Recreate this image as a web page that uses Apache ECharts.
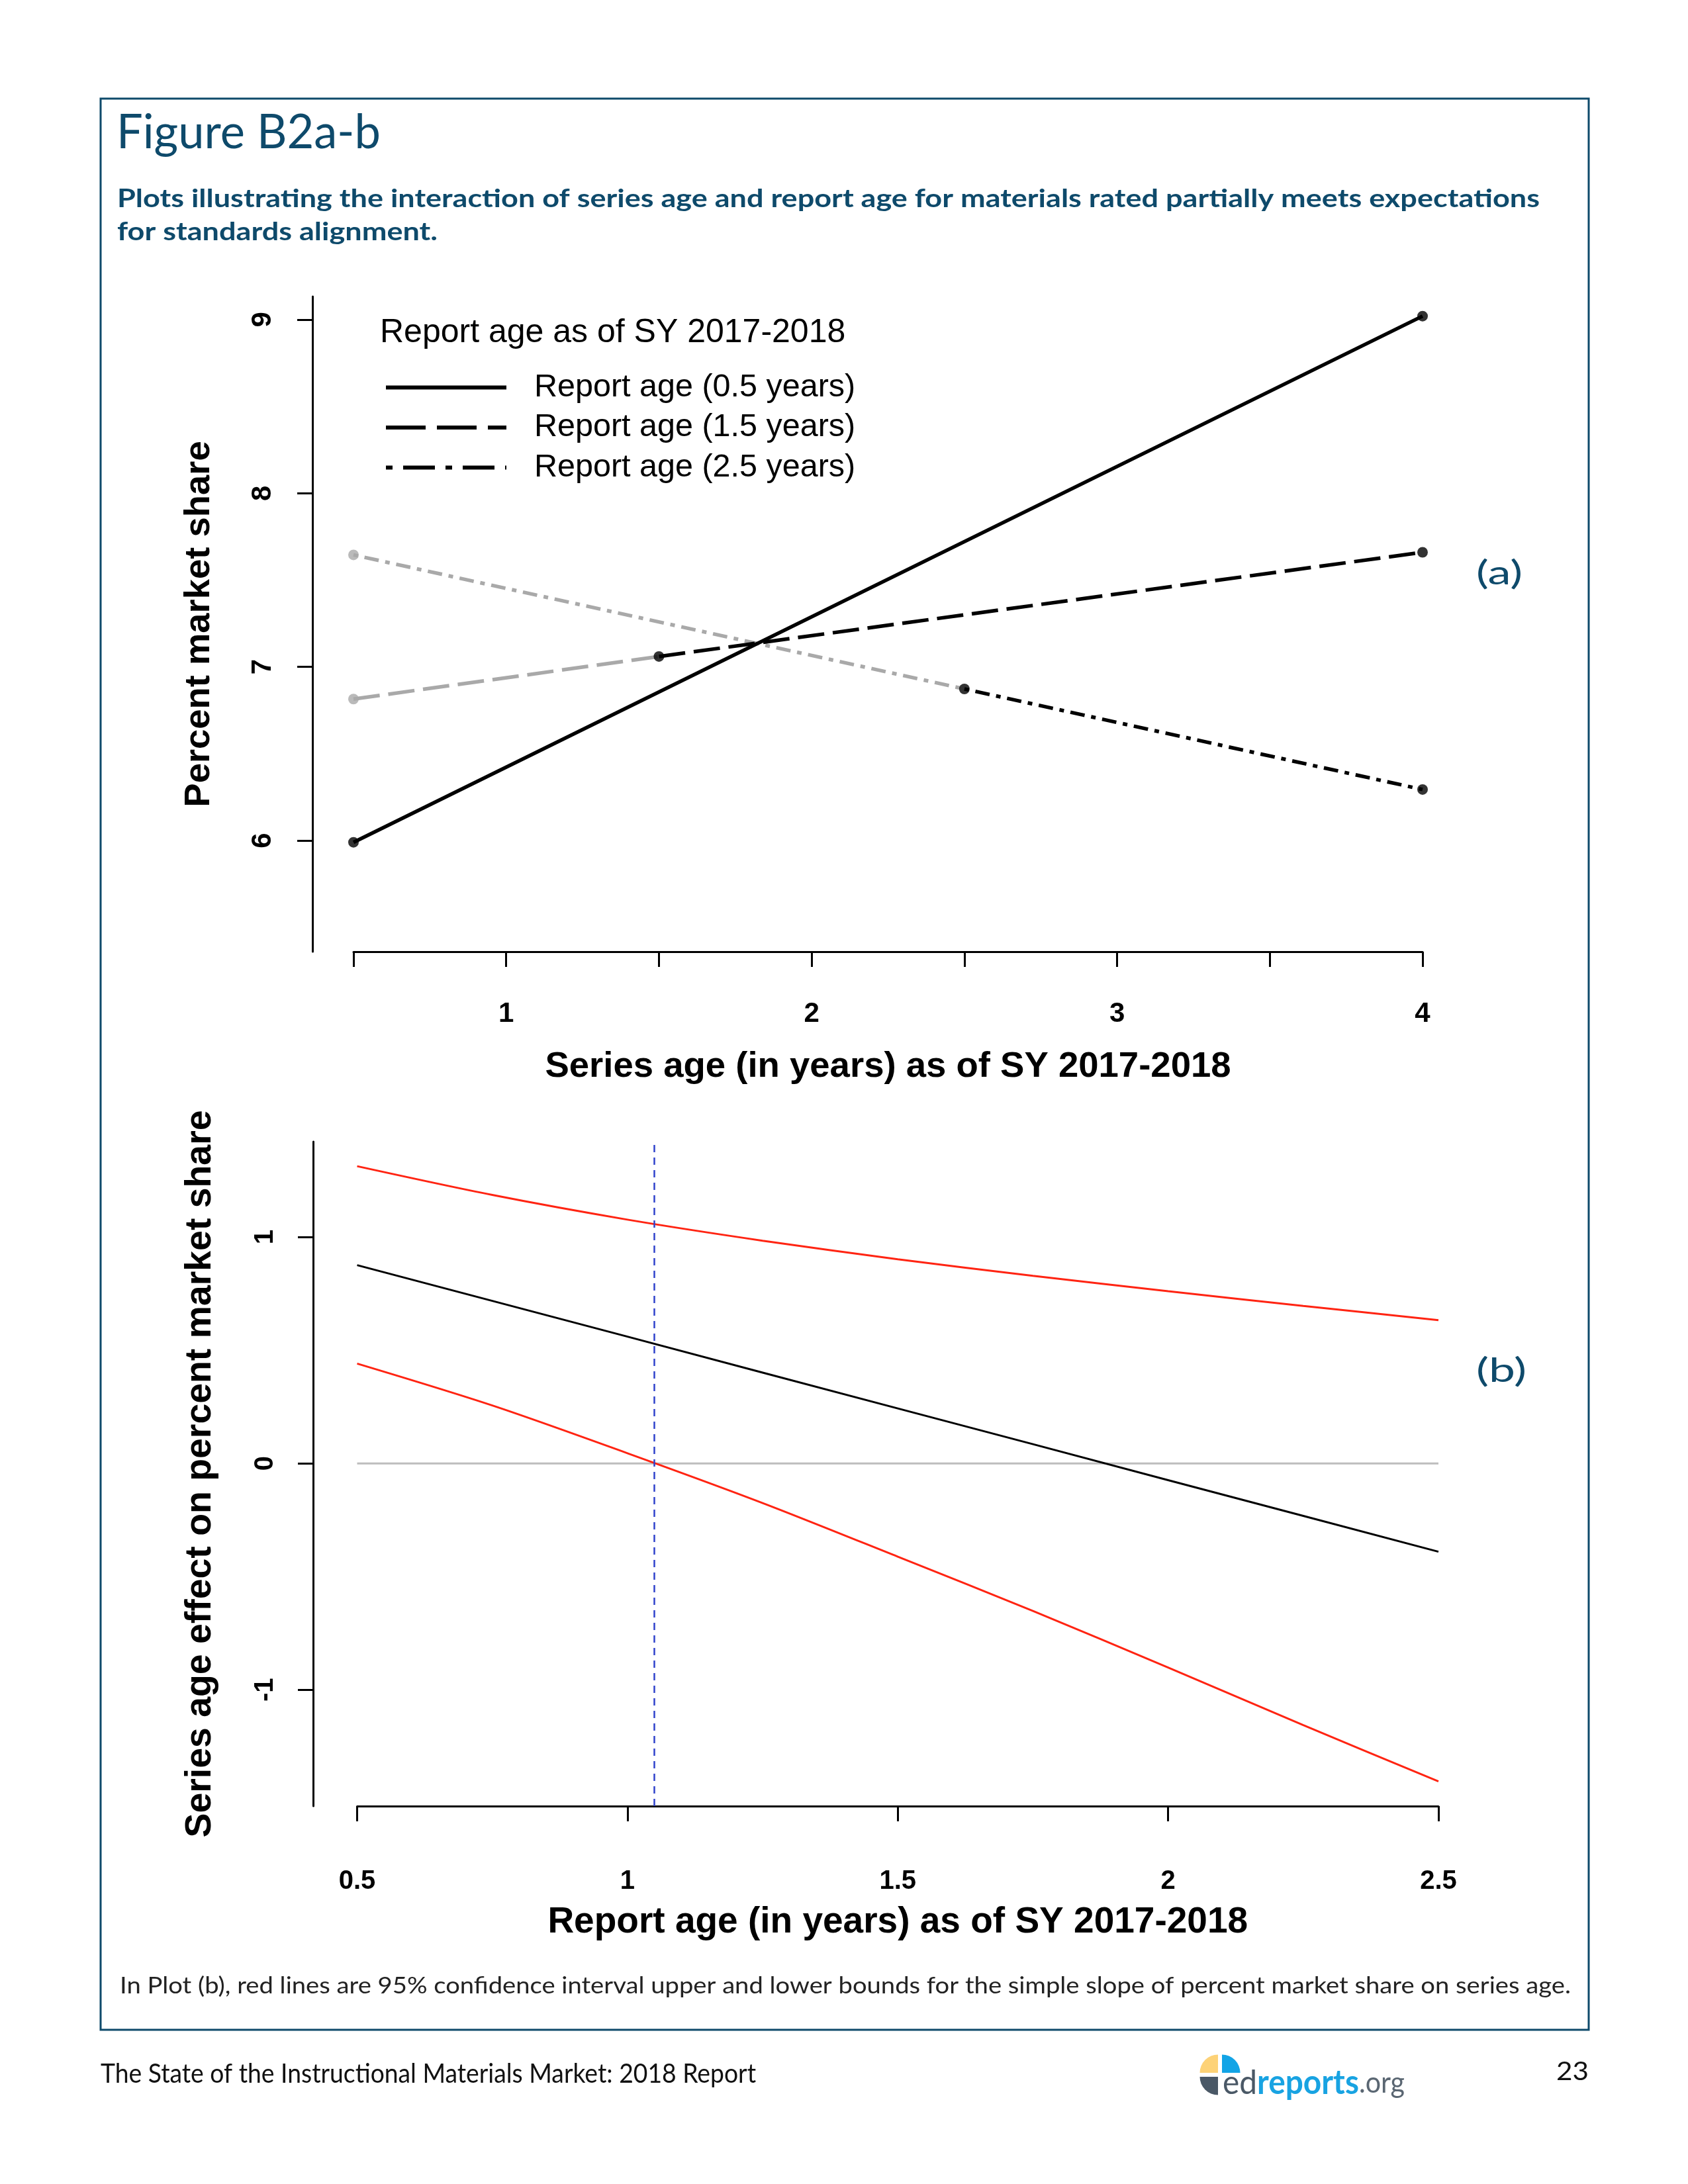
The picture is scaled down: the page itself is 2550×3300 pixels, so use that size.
<!DOCTYPE html>
<html><head><meta charset="utf-8">
<script src="https://cdn.jsdelivr.net/npm/echarts@6/dist/echarts.min.js"></script>
<style>html,body{margin:0;padding:0;background:#fff}#c{width:2550px;height:3300px}</style>
</head><body><div id="c"></div>
<script>
// ---------------- Plot (a) data ----------------
const seriesAgeTicks = [0.5, 1, 1.5, 2, 2.5, 3, 3.5, 4];
const seriesAgeLabels = [1, 2, 3, 4];
const shareTicks = [6, 7, 8, 9];
const reportAgeNames = ['Report age (0.5 years)', 'Report age (1.5 years)', 'Report age (2.5 years)'];
const seriesAgeFirst = 0.5;
const seriesAgeLast = 4;
const observedFrom = [0.5, 1.5, 2.5];        // series age where the black (observed) part begins
const shareAtFirst = [5.99, 6.815, 7.645];    // value at series age 0.5
const shareAtObserved = [5.99, 7.06, 6.873];  // value where black part begins
const shareAtLast = [9.02, 7.66, 6.294];      // value at series age 4

// ---------------- Plot (b) data ----------------
const reportAge = [0.5, 0.75, 1, 1.25, 1.5, 1.75, 2, 2.25, 2.5];
const reportAgeTicks = [0.5, 1, 1.5, 2, 2.5];
const simpleSlope = [0.876, 0.718, 0.560, 0.401, 0.243, 0.085, -0.074, -0.232, -0.390];
const ciUpper = [1.313, 1.186, 1.077, 0.984, 0.902, 0.829, 0.761, 0.696, 0.633];
const ciLower = [0.441, 0.256, 0.045, -0.175, -0.412, -0.652, -0.902, -1.156, -1.405];
const jnReportAge = 1.054;
const effectTicks = [-1, 0, 1];

// ---------------- styling ----------------
const RF = "'Liberation Sans', Arial, Helvetica, sans-serif";
const PF = "Lato, 'Open Sans', sans-serif";
const TEAL = '#0e4a6b';
const plotDash = ['solid', [40, 13], [7, 10, 22, 10]];
const legendDash = ['solid', [60, 17], [10, 16, 48, 16]];

const chart = echarts.init(document.getElementById('c'), null, {renderer: 'canvas'});

// plot (a) series
const series = [];
reportAgeNames.forEach((name, i) => {
  if (observedFrom[i] > seriesAgeFirst) {
    series.push({
      type: 'line', name: name + ' extrapolated', xAxisIndex: 0, yAxisIndex: 0,
      data: [[seriesAgeFirst, shareAtFirst[i]], [observedFrom[i], shareAtObserved[i]]],
      symbol: 'none', silent: true, z: 2,
      lineStyle: {color: '#a9a9a9', width: 5.5, type: plotDash[i]}
    });
  }
  series.push({
    type: 'line', name: name, xAxisIndex: 0, yAxisIndex: 0,
    data: [[observedFrom[i], shareAtObserved[i]], [seriesAgeLast, shareAtLast[i]]],
    symbol: 'none', silent: true, z: 3,
    lineStyle: {color: '#000', width: 5.5, type: plotDash[i]}
  });
});
const blackPts = [], grayPts = [];
reportAgeNames.forEach((n, i) => {
  blackPts.push([observedFrom[i], shareAtObserved[i]]);
  blackPts.push([seriesAgeLast, shareAtLast[i]]);
  if (observedFrom[i] > seriesAgeFirst) grayPts.push([seriesAgeFirst, shareAtFirst[i]]);
});
series.push({type: 'scatter', name: 'gray points', xAxisIndex: 0, yAxisIndex: 0, data: grayPts,
  symbolSize: 16, itemStyle: {color: '#a9a9a9'}, z: 4, silent: true});
series.push({type: 'scatter', name: 'black points', xAxisIndex: 0, yAxisIndex: 0, data: blackPts,
  symbolSize: 16, itemStyle: {color: '#000'}, z: 5, silent: true});

// plot (b) series
const zip = (xs, ys) => xs.map((x, k) => [x, ys[k]]);
series.push({type: 'line', name: 'zero', xAxisIndex: 1, yAxisIndex: 1,
  data: [[reportAge[0], 0], [reportAge[reportAge.length - 1], 0]], symbol: 'none', silent: true, z: 1,
  lineStyle: {color: '#bdbdbd', width: 3}});
series.push({type: 'line', name: 'simple slope', xAxisIndex: 1, yAxisIndex: 1,
  data: zip(reportAge, simpleSlope), symbol: 'none', silent: true, z: 3,
  lineStyle: {color: '#000', width: 3},
  markLine: {silent: true, symbol: 'none', label: {show: false},
    lineStyle: {color: '#3043cc', width: 2.5, type: [11, 8]},
    data: [{xAxis: jnReportAge}]}});
series.push({type: 'line', name: 'upper', xAxisIndex: 1, yAxisIndex: 1,
  data: zip(reportAge, ciUpper), symbol: 'none', silent: true, z: 3, smooth: 0.3,
  lineStyle: {color: '#ff2412', width: 3}});
series.push({type: 'line', name: 'lower', xAxisIndex: 1, yAxisIndex: 1,
  data: zip(reportAge, ciLower), symbol: 'none', silent: true, z: 3, smooth: 0.3,
  lineStyle: {color: '#ff2412', width: 3}});

// ---------------- page text helpers ----------------
const mctx = document.createElement('canvas').getContext('2d');
function measure(text, font) { mctx.font = font; return mctx.measureText(text).width; }
function fitText(text, font, x, y, targetW, fill) {
  const w = measure(text, font);
  return {type: 'text', x: x, y: y, scaleX: targetW / w, silent: true,
    style: {text: text, font: font, fill: fill, textAlign: 'left', align: 'left',
      textVerticalAlign: 'middle', verticalAlign: 'middle'}};
}
function plainText(text, font, x, y, fill, align) {
  return {type: 'text', x: x, y: y, silent: true,
    style: {text: text, font: font, fill: fill, textAlign: align || 'left', align: align || 'left',
      textVerticalAlign: 'middle', verticalAlign: 'middle'}};
}

// logo text
const fEd = `400 51px ${PF}`, fRep = `700 51px ${PF}`, fOrg = `400 44px ${PF}`;
const logoW = measure('ed', fEd) + measure('reports', fRep) + measure('.org', fOrg);

const graphics = [
  {type: 'rect', silent: true, shape: {x: 152, y: 149, width: 2248, height: 2918},
    style: {fill: 'none', stroke: TEAL, lineWidth: 3}},
  fitText('Figure B2a-b', `400 72px ${PF}`, 176, 201, 399, TEAL),
  fitText('Plots illustrating the interaction of series age and report age for materials rated partially meets expectations',
    `700 38px ${PF}`, 177, 301, 2149, TEAL),
  fitText('for standards alignment.', `700 38px ${PF}`, 177, 351, 484, TEAL),
  fitText('(a)', `400 50px ${PF}`, 2230, 867, 70, TEAL),
  fitText('(b)', `400 50px ${PF}`, 2230, 2072, 76, TEAL),
  fitText('In Plot (b), red lines are 95% confidence interval upper and lower bounds for the simple slope of percent market share on series age.',
    `400 34px ${PF}`, 181, 3001, 2192, '#222'),
  fitText('The State of the Instructional Materials Market: 2018 Report', `400 40px ${PF}`, 152, 3134, 990, '#111'),
  fitText('23', `400 38px ${PF}`, 2351, 3131, 49, '#111'),
  plainText('Report age as of SY 2017-2018', `400 50px ${RF}`, 574, 503, '#000'),
  // logo
  {type: 'sector', silent: true, shape: {cx: 1840, cy: 3132, r: 27.5, r0: 0, startAngle: Math.PI, endAngle: Math.PI * 1.5, clockwise: true}, style: {fill: '#fdd277'}},
  {type: 'sector', silent: true, shape: {cx: 1846, cy: 3132, r: 27.5, r0: 0, startAngle: Math.PI * 1.5, endAngle: Math.PI * 2, clockwise: true}, style: {fill: '#12a4e6'}},
  {type: 'sector', silent: true, shape: {cx: 1840, cy: 3138, r: 27.5, r0: 0, startAngle: Math.PI * 0.5, endAngle: Math.PI, clockwise: true}, style: {fill: '#4a5866'}},
  {type: 'text', silent: true, x: 1847, y: 3148, scaleX: 275 / logoW,
    style: {text: '{a|ed}{b|reports}{c|.org}', textAlign: 'left', align: 'left', textVerticalAlign: 'middle', verticalAlign: 'middle',
      rich: {a: {font: fEd, fill: '#4a5866'}, b: {font: fRep, fill: '#18a3e2'}, c: {font: fOrg, fill: '#5a6672'}}}}
];

const axLine = {show: true, onZero: false, lineStyle: {color: '#000', width: 3}};
const axTick = (vals) => ({show: true, length: 23, customValues: vals, lineStyle: {color: '#000', width: 3}});

const option = {
  animation: false,
  backgroundColor: '#fff',
  grid: [
    {left: 534, top: 448, width: 1615, height: 990},
    {left: 539.5, top: 1725, width: 1633.5, height: 1004}
  ],
  xAxis: [
    {gridIndex: 0, type: 'value', min: 0.5, max: 4, interval: 0.5,
      axisLine: axLine, axisTick: axTick(seriesAgeTicks), splitLine: {show: false},
      axisLabel: {customValues: seriesAgeLabels, margin: 73, fontFamily: RF, fontWeight: 'bold', fontSize: 42, color: '#000'},
      name: 'Series age (in years) as of SY 2017-2018', nameLocation: 'middle', nameGap: 146, nameMoveOverlap: false,
      nameTextStyle: {fontFamily: RF, fontWeight: 'bold', fontSize: 54.5, color: '#000'}},
    {gridIndex: 1, type: 'value', min: 0.5, max: 2.5, interval: 0.5,
      axisLine: axLine, axisTick: axTick(reportAgeTicks), splitLine: {show: false},
      axisLabel: {customValues: reportAgeTicks, margin: 94, fontFamily: RF, fontWeight: 'bold', fontSize: 40, color: '#000'},
      name: 'Report age (in years) as of SY 2017-2018', nameLocation: 'middle', nameGap: 148, nameMoveOverlap: false,
      nameTextStyle: {fontFamily: RF, fontWeight: 'bold', fontSize: 55, color: '#000'}}
  ],
  yAxis: [
    {gridIndex: 0, type: 'value', min: 5.36, max: 9.133, offset: 62,
      axisLine: axLine, axisTick: axTick(shareTicks), splitLine: {show: false},
      axisLabel: {customValues: shareTicks, rotate: 90, margin: 54, fontFamily: RF, fontWeight: 'bold', fontSize: 42, color: '#000'},
      name: 'Percent market share', nameLocation: 'middle', nameGap: 144, nameMoveOverlap: false,
      nameTextStyle: {fontFamily: RF, fontWeight: 'bold', fontSize: 54.4, color: '#000'}},
    {gridIndex: 1, type: 'value', min: -1.514, max: 1.4216, offset: 66.5,
      axisLine: axLine, axisTick: axTick(effectTicks), splitLine: {show: false},
      axisLabel: {customValues: effectTicks, rotate: 90, margin: 52, fontFamily: RF, fontWeight: 'bold', fontSize: 40, color: '#000'},
      name: 'Series age effect on percent market share', nameLocation: 'middle', nameGap: 143, nameMoveOverlap: false,
      nameTextStyle: {fontFamily: RF, fontWeight: 'bold', fontSize: 55.4, color: '#000'}}
  ],
  legend: {
    orient: 'vertical', left: 580, top: 561, padding: 0, itemGap: 11.5,
    itemWidth: 182, itemHeight: 20, selectedMode: false,
    itemStyle: {opacity: 0},
    textStyle: {fontFamily: RF, fontSize: 48.5, color: '#000', padding: [0, 0, 0, 37]},
    data: reportAgeNames.map((n, i) => ({name: n, itemStyle: {opacity: 0},
      lineStyle: {color: '#000', width: 6, type: legendDash[i]}}))
  },
  graphic: graphics,
  series: series
};
chart.setOption(option);
</script>
</body></html>
